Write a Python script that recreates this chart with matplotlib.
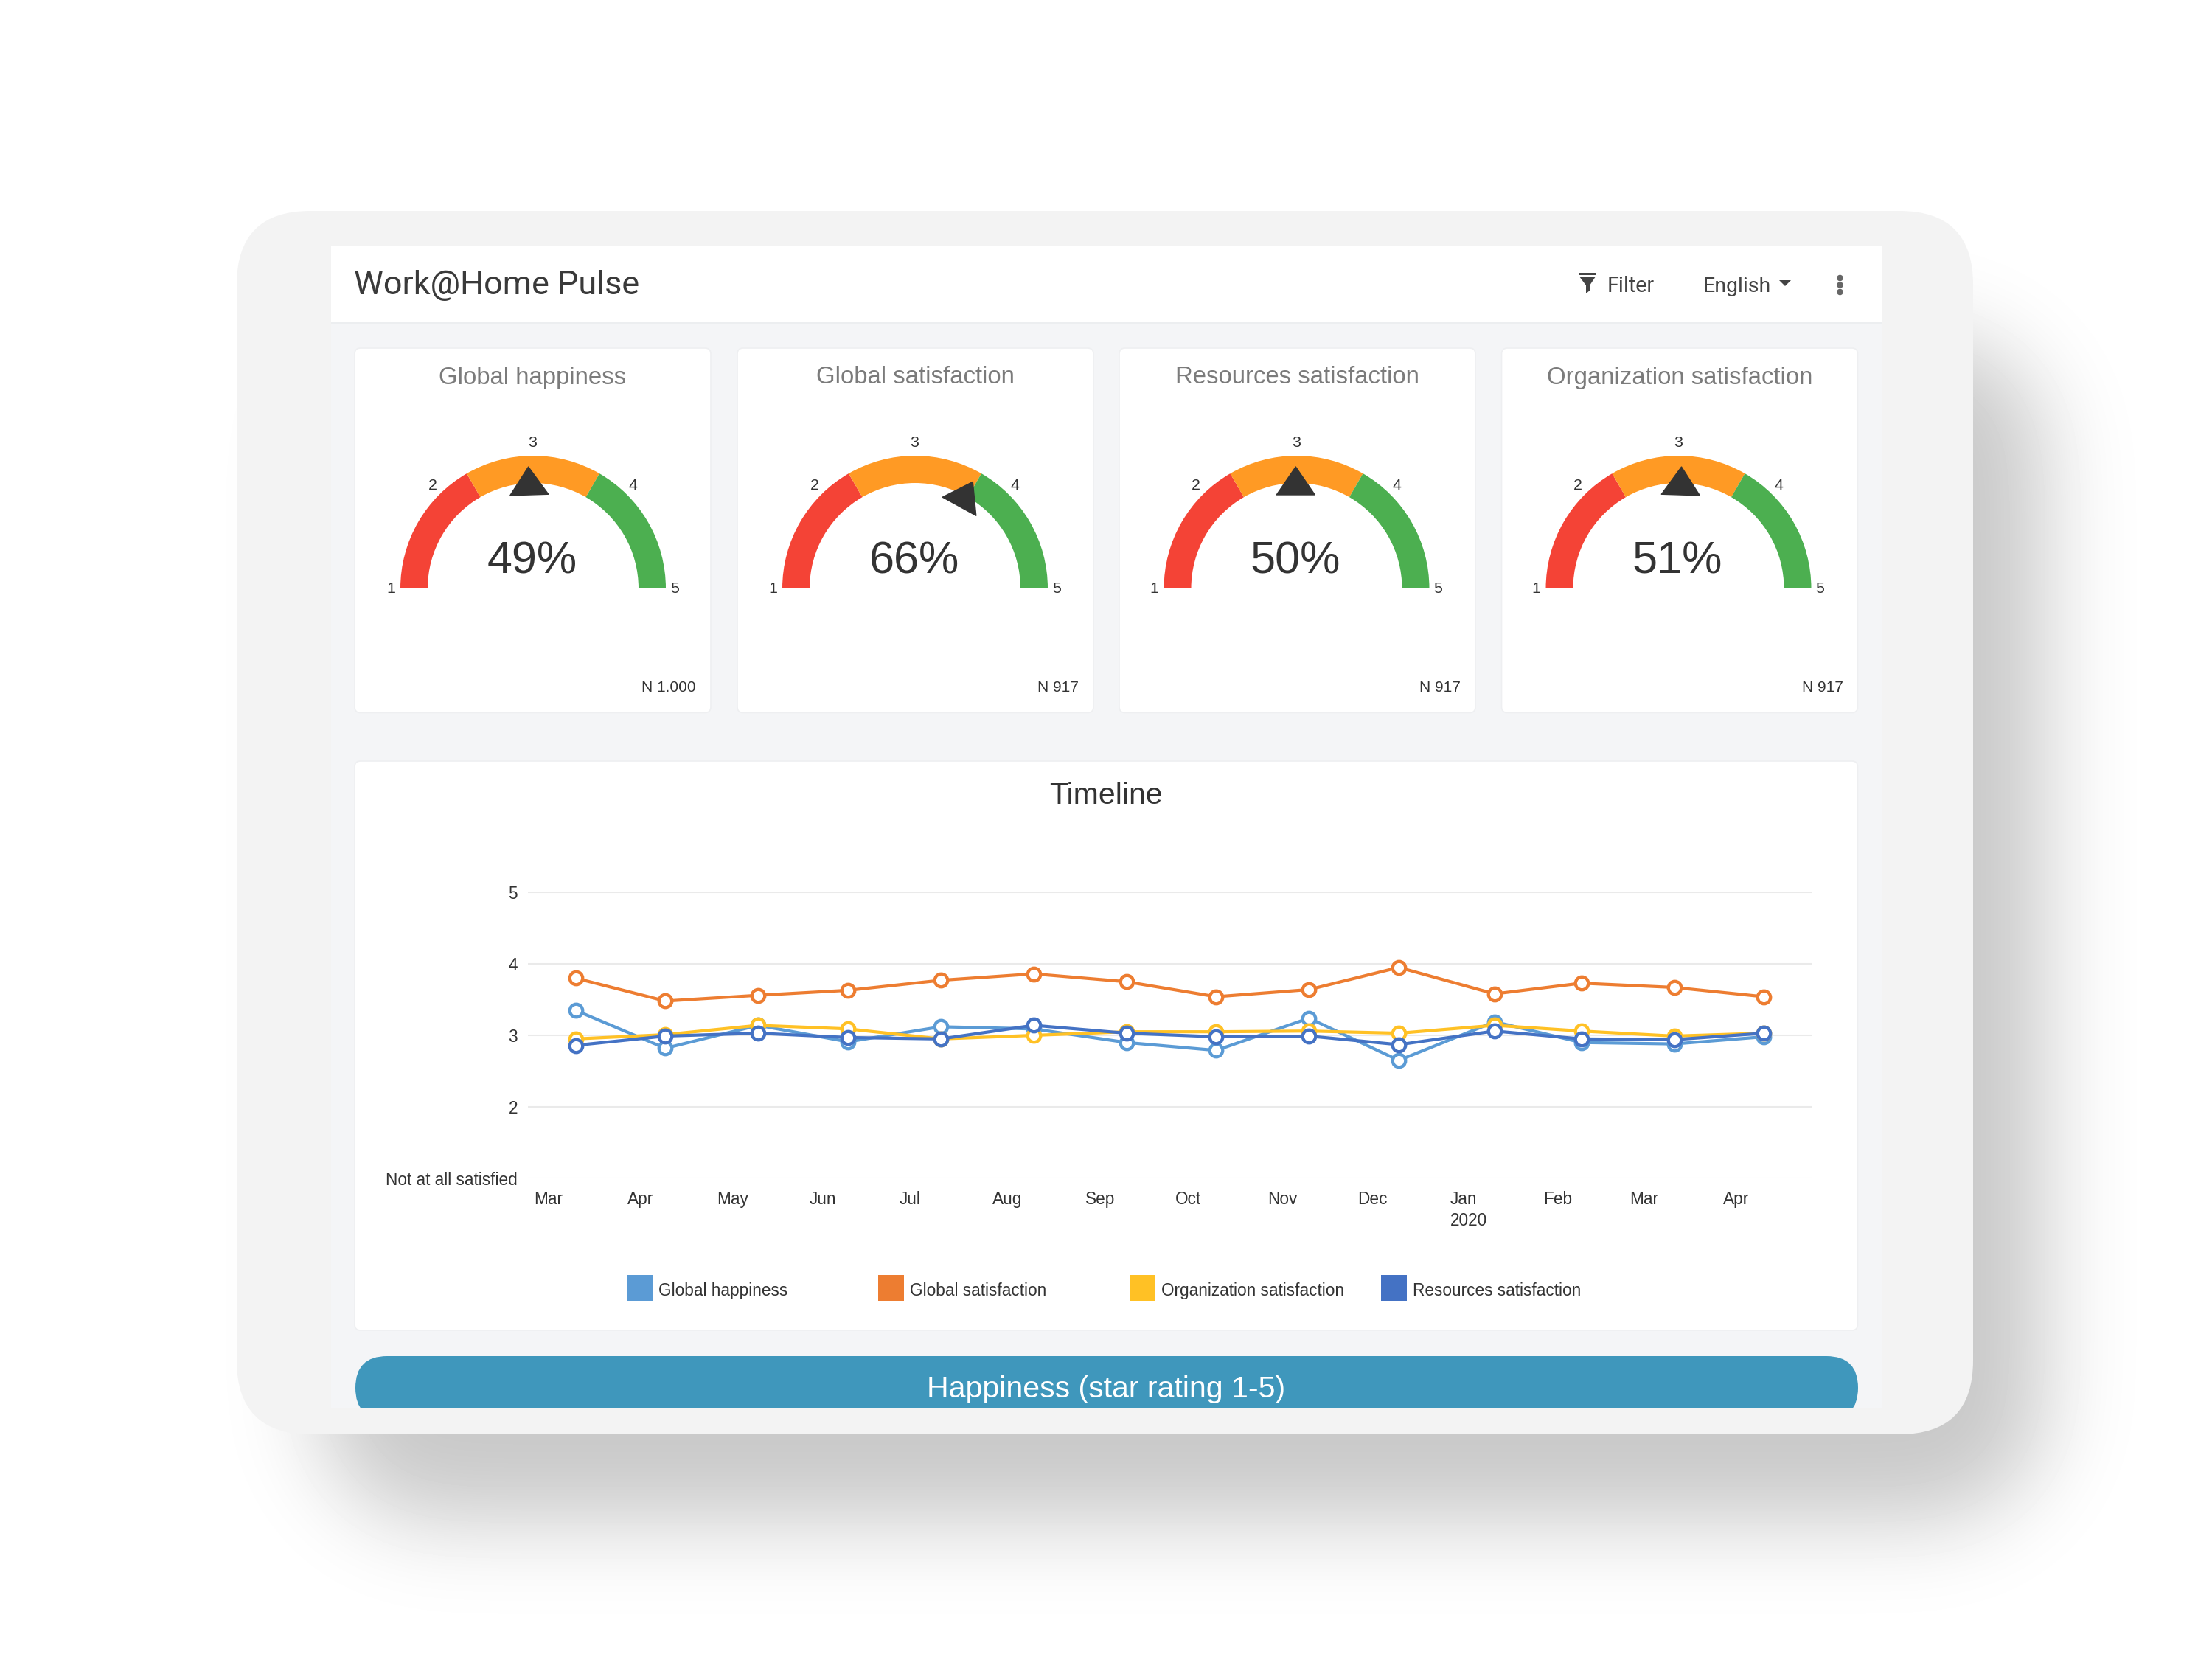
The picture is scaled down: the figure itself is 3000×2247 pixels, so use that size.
import numpy as np
import pandas as pd
import matplotlib
matplotlib.use("Agg")
import matplotlib.pyplot as plt
import matplotlib.dates as mdates
from matplotlib.patches import FancyBboxPatch, Rectangle, Wedge, Polygon, Circle
from matplotlib.transforms import ScaledTranslation

W, H = 3000, 2247
DPI = 100

# ---- data ----
page_title = "Work@Home Pulse"
gauge_titles = ["Global happiness", "Global satisfaction", "Resources satisfaction", "Organization satisfaction"]
gauge_percent = [49, 66, 50, 51]
gauge_n = ["N 1.000", "N 917", "N 917", "N 917"]
gauge_scale = [1, 2, 3, 4, 5]
gauge_band_edges = [1, 2.333, 3.667, 5]
gauge_band_colors = ["#F44336", "#FF9A24", "#4CAF50"]

survey_dates = ["2019-03-17", "2019-04-16", "2019-05-17", "2019-06-16", "2019-07-17", "2019-08-17", "2019-09-17",
                "2019-10-17", "2019-11-17", "2019-12-17", "2020-01-18", "2020-02-16", "2020-03-18", "2020-04-17"]
global_happiness = [3.35, 2.82, 3.14, 2.91, 3.12, 3.09, 2.90, 2.79, 3.24, 2.65, 3.19, 2.90, 2.88, 2.98]
global_satisfaction = [3.80, 3.48, 3.56, 3.63, 3.77, 3.86, 3.75, 3.54, 3.64, 3.95, 3.58, 3.73, 3.67, 3.54]
organization_satisfaction = [2.95, 3.01, 3.14, 3.09, 2.95, 3.00, 3.05, 3.05, 3.06, 3.03, 3.14, 3.06, 2.99, 3.03]
resources_satisfaction = [2.86, 2.99, 3.03, 2.97, 2.95, 3.14, 3.03, 2.98, 2.99, 2.87, 3.06, 2.95, 2.94, 3.03]
series_names = ["Global happiness", "Global satisfaction", "Organization satisfaction", "Resources satisfaction"]
series_colors = ["#5B9BD5", "#ED7D31", "#FFC125", "#4472C4"]

month_starts = ["2019-03-01", "2019-04-01", "2019-05-01", "2019-06-01", "2019-07-01", "2019-08-01", "2019-09-01",
                "2019-10-01", "2019-11-01", "2019-12-01", "2020-01-01", "2020-02-01", "2020-03-01", "2020-04-01"]
month_labels = ["Mar", "Apr", "May", "Jun", "Jul", "Aug", "Sep", "Oct", "Nov", "Dec", "Jan\n2020", "Feb", "Mar", "Apr"]
y_ticks = [1, 2, 3, 4, 5]
y_labels = ["Not at all satisfied", "2", "3", "4", "5"]

SANS = ["Liberation Sans", "DejaVu Sans"]
ROBOTO = ["Roboto", "DejaVu Sans"]
TXT = "#333333"

fig = plt.figure(figsize=(W / DPI, H / DPI), dpi=DPI, facecolor="white")
bg = fig.add_axes([0, 0, 1, 1])
bg.set_axis_off()


def Y(y):
    return H - y


# ---- soft shadow of the device frame ----
step = 4
gx = np.arange(0, W + step, step) + 0.0
gy = np.arange(0, H + step, step) + 0.0
sl, sr, st, sb, srad = 430, 2775, 455, 2066, 160
xx, yy = np.meshgrid(gx, gy)
cx, cy = (sl + sr) / 2, (st + sb) / 2
qx = np.abs(xx - cx) - ((sr - sl) / 2 - srad)
qy = np.abs(yy - cy) - ((sb - st) / 2 - srad)
dist = np.hypot(np.maximum(qx, 0), np.maximum(qy, 0)) + np.minimum(np.maximum(qx, qy), 0) - srad
mask = (dist <= 0).astype(float)
sigma = 60 / step
kx = np.arange(-int(4 * sigma), int(4 * sigma) + 1)
kern = np.exp(-kx ** 2 / (2 * sigma ** 2))
kern /= kern.sum()
blur = np.array([np.convolve(r, kern, mode="same") for r in mask])
blur = np.array([np.convolve(c, kern, mode="same") for c in blur.T]).T
shade = 1 - (1 - 0xC8 / 255) * blur
bg.imshow(shade, extent=(0, W, 0, H), origin="upper", cmap="gray", vmin=0, vmax=1, aspect="auto",
          interpolation="bilinear", zorder=0)
bg.set_xlim(0, W)
bg.set_ylim(0, H)


def rrect(x0, y0, x1, y1, r, fc, ec="none", lw=0, z=1):
    p = FancyBboxPatch((x0, Y(y1)), x1 - x0, y1 - y0, boxstyle=f"round,pad=0,rounding_size={r}",
                       fc=fc, ec=ec, lw=lw, zorder=z)
    bg.add_patch(p)
    return p


def rect(x0, y0, x1, y1, fc, z=1, ec="none", lw=0):
    p = Rectangle((x0, Y(y1)), x1 - x0, y1 - y0, fc=fc, ec=ec, lw=lw, zorder=z)
    bg.add_patch(p)
    return p


def label(x, y, s, size, color=TXT, ha="center", family=SANS, va="center_baseline", z=6):
    return bg.text(x, Y(y), s, fontsize=size, color=color, ha=ha, va=va, family=family, zorder=z)


# device frame and page
rrect(321, 286, 2676, 1945, 100, "#F3F3F3", z=1)
rect(449, 334, 2552, 1910, "#F4F5F7", z=2)
rect(449, 334, 2552, 436, "#FFFFFF", z=3)
rect(449, 436, 2552, 439, "#ECEEF0", z=3)

# header
label(480, 383, page_title, 32.4, color="#3A3A3A", ha="left", family=ROBOTO)
label(2180, 385, "Filter", 20.7, color="#444444", ha="left", family=ROBOTO)
label(2310, 385, "English", 20.5, color="#444444", ha="left", family=ROBOTO)
bg.add_patch(Polygon([(2413, Y(380)), (2429, Y(380)), (2421, Y(388))], fc="#444444", ec="none", zorder=6))
for cy_ in (377, 386.5, 396):
    bg.add_patch(Circle((2495.5, Y(cy_)), 4.3, fc="#666666", ec="none", zorder=6))
rect(2141, 370, 2165, 372.5, "#444444", z=6)
bg.add_patch(Polygon([(2142, Y(375)), (2164, Y(375)), (2156, Y(387)), (2156, Y(394)), (2151, Y(398)), (2151, Y(387))],
                     fc="#444444", ec="none", zorder=6))

# gauge cards
card_left = [481, 1000, 1518, 2036.5]
card_w = 483
gauge_r = 180
gauge_w = 37
gauge_centers = [723, 1241, 1758.5, 2276.5]
for i, left in enumerate(card_left):
    rrect(left, 472, left + card_w, 966.5, 8, "#FFFFFF", ec="#EEEFF1", lw=1.2, z=3)
    c = gauge_centers[i]
    label(left + card_w / 2, 508.5, gauge_titles[i], 23.7, color="#7B7B7B", family=SANS)
    to_angle = lambda v: 180 * (5 - v) / 4
    for k, col in enumerate(gauge_band_colors):
        a0 = to_angle(gauge_band_edges[k + 1])
        a1 = to_angle(gauge_band_edges[k])
        bg.add_patch(Wedge((c, Y(798)), gauge_r, a0, a1, width=gauge_w, fc=col, ec="none", zorder=4))
    for v in gauge_scale:
        a = np.radians(to_angle(v))
        label(c - 0.5 + 192.5 * np.cos(a), 796 - 197 * np.sin(a), str(v), 15.4)
    a = np.radians(180 * (1 - gauge_percent[i] / 100))
    ux, uy = np.cos(a), np.sin(a)
    ox, oy = c - 1.2, Y(798)
    tip = (ox + 165 * ux, oy + 165 * uy)
    b1 = (ox + 127 * ux - 26 * uy, oy + 127 * uy + 26 * ux)
    b2 = (ox + 127 * ux + 26 * uy, oy + 127 * uy - 26 * ux)
    bg.add_patch(Polygon([tip, b1, b2], fc="#333333", ec="#333333", lw=1.0, joinstyle="round", zorder=5))
    label(c - 1.5, 756, f"{gauge_percent[i]}%", 44)
    label(left + card_w - 20, 931, gauge_n[i], 15.0, ha="right")

# timeline card
rrect(481, 1032, 2519.5, 1804, 8, "#FFFFFF", ec="#EEEFF1", lw=1.2, z=3)
label(1500, 1075, "Timeline", 29.5)

# legend
for i, name in enumerate(series_names):
    x0 = 850 + 341 * i
    rect(x0, 1729, x0 + 35, 1764, series_colors[i], z=5)
    label(x0 + 43, 1748, name, 16.3, ha="left")

# happiness bar, cut by the page bottom
pill = rrect(482, 1839, 2520, 1925, 43, "#3F97BC", z=3)
pill.set_clip_path(Rectangle((0, Y(1910)), W, H, transform=bg.transData))
label(1500, 1880, "Happiness (star rating 1-5)", 29.6, color="#FFFFFF")

# ---- timeline chart ----
ax_l, ax_r, ax_t, ax_b = 715.6, 2457, 1210, 1598
ax = fig.add_axes([ax_l / W, (H - ax_b) / H, (ax_r - ax_l) / W, (ax_b - ax_t) / H], zorder=5)
ax.patch.set_alpha(0)
dates = mdates.date2num(pd.to_datetime(survey_dates).to_pydatetime())
ticks = mdates.date2num(pd.to_datetime(month_starts).to_pydatetime())
for vals, name, col in zip([global_happiness, global_satisfaction, organization_satisfaction, resources_satisfaction],
                           series_names, series_colors):
    ax.plot(dates, vals, "-o", color=col, lw=3.0, ms=12.6, mfc="white", mec=col, mew=3.1, label=name,
            clip_on=False, zorder=3)
ax.set_xlim(dates[0] - 14.7, dates[-1] + 15.9)
ax.set_ylim(1, 5)
ax.set_yticks(y_ticks, y_labels, fontsize=16.3, color=TXT, family=SANS)
ax.set_xticks(ticks, month_labels, fontsize=16.3, color=TXT, family=SANS, ha="left", linespacing=1.3)
ax.tick_params(axis="both", length=0)
ax.tick_params(axis="y", pad=9.8)
ax.tick_params(axis="x", pad=12.5)
off = ScaledTranslation(9 / DPI, 0, fig.dpi_scale_trans)
for t in ax.get_xticklabels():
    t.set_transform(t.get_transform() + off)
ax.grid(axis="y", color="#EAEAEA", lw=1.5, zorder=1)
ax.set_axisbelow(True)
for s in ax.spines.values():
    s.set_visible(False)

fig.savefig("out.png", dpi=DPI, facecolor="white")
